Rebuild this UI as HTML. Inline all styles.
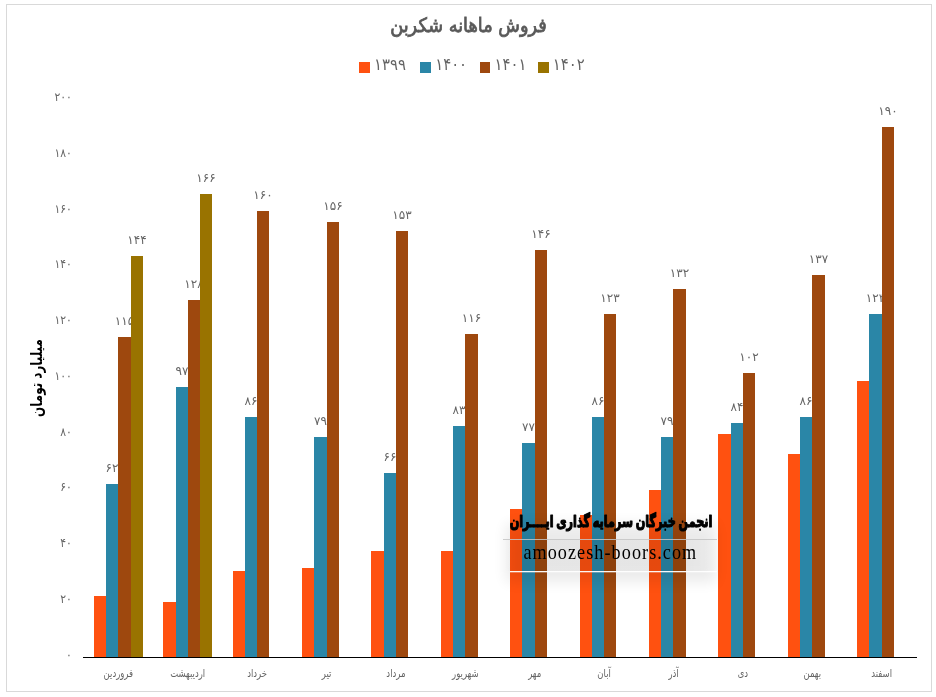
<!DOCTYPE html>
<html lang="fa"><head><meta charset="utf-8"><title>فروش ماهانه شکربن</title>
<style>html,body{margin:0;padding:0;background:#fff}body{width:936px;height:697px;overflow:hidden}svg{display:block;will-change:transform}text{font-family:"DejaVu Sans","Liberation Sans",sans-serif}.num{font-family:"DejaVu Sans Condensed","DejaVu Sans","Liberation Sans",sans-serif}</style></head><body>
<svg width="936" height="697" viewBox="0 0 936 697">
<defs><filter id="blur" x="-20%" y="-50%" width="140%" height="200%"><feGaussianBlur stdDeviation="7"/></filter><linearGradient id="band" x1="0" x2="1" y1="0" y2="0"><stop offset="0" stop-color="#000" stop-opacity="0"/><stop offset="0.08" stop-color="#000" stop-opacity="0.02"/><stop offset="0.85" stop-color="#000" stop-opacity="0.02"/><stop offset="1" stop-color="#000" stop-opacity="0"/></linearGradient><linearGradient id="fade" x1="0" x2="1" y1="0" y2="0"><stop offset="0" stop-color="#fff" stop-opacity="0"/><stop offset="0.12" stop-color="#fff" stop-opacity="1"/><stop offset="0.88" stop-color="#fff" stop-opacity="1"/><stop offset="1" stop-color="#fff" stop-opacity="0"/></linearGradient></defs>
<rect x="0" y="0" width="936" height="697" fill="#fff"/>
<rect x="6.5" y="4.5" width="925" height="687" fill="none" stroke="#D9D9D9" stroke-width="1"/>
<text transform="translate(468.5,32.1) scale(0.90,1)" text-anchor="middle" font-size="19.7" fill="#595959" stroke="#595959" stroke-width="0.8" direction="rtl">فروش ماهانه شکربن</text>
<rect x="359" y="62" width="11" height="11" fill="#FF5110" shape-rendering="crispEdges"/>
<text class="num" x="374.1" y="70" font-size="16.5" fill="#646464">۱۳۹۹</text>
<rect x="420" y="62" width="11" height="11" fill="#2A86A7" shape-rendering="crispEdges"/>
<text class="num" x="435.2" y="70" font-size="16.5" fill="#646464">۱۴۰۰</text>
<rect x="480" y="62" width="10" height="11" fill="#9E480E" shape-rendering="crispEdges"/>
<text class="num" x="494.5" y="70" font-size="16.5" fill="#646464">۱۴۰۱</text>
<rect x="538" y="62" width="11" height="11" fill="#997300" shape-rendering="crispEdges"/>
<text class="num" x="552.8" y="70" font-size="16.5" fill="#646464">۱۴۰۲</text>
<text class="num" x="71.8" y="658.8" text-anchor="end" font-size="12" fill="#646464">۰</text>
<text class="num" x="71.8" y="603.0" text-anchor="end" font-size="12" fill="#646464">۲۰</text>
<text class="num" x="71.8" y="547.2" text-anchor="end" font-size="12" fill="#646464">۴۰</text>
<text class="num" x="71.8" y="491.4" text-anchor="end" font-size="12" fill="#646464">۶۰</text>
<text class="num" x="71.8" y="435.6" text-anchor="end" font-size="12" fill="#646464">۸۰</text>
<text class="num" x="71.8" y="379.9" text-anchor="end" font-size="12" fill="#646464">۱۰۰</text>
<text class="num" x="71.8" y="324.1" text-anchor="end" font-size="12" fill="#646464">۱۲۰</text>
<text class="num" x="71.8" y="268.3" text-anchor="end" font-size="12" fill="#646464">۱۴۰</text>
<text class="num" x="71.8" y="212.5" text-anchor="end" font-size="12" fill="#646464">۱۶۰</text>
<text class="num" x="71.8" y="156.7" text-anchor="end" font-size="12" fill="#646464">۱۸۰</text>
<text class="num" x="71.8" y="100.9" text-anchor="end" font-size="12" fill="#646464">۲۰۰</text>
<text transform="translate(41.7,378) rotate(-90) scale(0.76,1)" text-anchor="middle" font-size="15.75" font-weight="bold" fill="#000" direction="rtl">میلیارد تومان</text>
<g fill="#FF5110" shape-rendering="crispEdges"><rect x="94" y="596" width="12" height="61"/><rect x="163" y="602" width="13" height="55"/><rect x="233" y="571" width="12" height="86"/><rect x="302" y="568" width="12" height="89"/><rect x="371" y="551" width="13" height="106"/><rect x="441" y="551" width="12" height="106"/><rect x="510" y="509" width="12" height="148"/><rect x="580" y="515" width="12" height="142"/><rect x="649" y="490" width="12" height="167"/><rect x="718" y="434" width="13" height="223"/><rect x="788" y="454" width="12" height="203"/><rect x="857" y="381" width="12" height="276"/></g>
<g fill="#2A86A7" shape-rendering="crispEdges"><rect x="106" y="484" width="12" height="173"/><rect x="176" y="387" width="12" height="270"/><rect x="245" y="417" width="12" height="240"/><rect x="314" y="437" width="13" height="220"/><rect x="384" y="473" width="12" height="184"/><rect x="453" y="426" width="12" height="231"/><rect x="522" y="443" width="13" height="214"/><rect x="592" y="417" width="12" height="240"/><rect x="661" y="437" width="12" height="220"/><rect x="731" y="423" width="12" height="234"/><rect x="800" y="417" width="12" height="240"/><rect x="869" y="314" width="13" height="343"/></g>
<g class="num" font-size="12" fill="#646464" text-anchor="middle"><text x="112.0" y="472">۶۲</text><text x="182.0" y="375">۹۷</text><text x="251.0" y="405">۸۶</text><text x="320.5" y="425">۷۹</text><text x="390.0" y="461">۶۶</text><text x="459.0" y="414">۸۳</text><text x="528.5" y="431">۷۷</text><text x="598.0" y="405">۸۶</text><text x="667.0" y="425">۷۹</text><text x="737.0" y="411">۸۴</text><text x="806.0" y="405">۸۶</text><text x="875.5" y="302">۱۲۳</text></g>
<g fill="#9E480E" shape-rendering="crispEdges"><rect x="118" y="337" width="13" height="320"/><rect x="188" y="300" width="12" height="357"/><rect x="257" y="211" width="12" height="446"/><rect x="327" y="222" width="12" height="435"/><rect x="396" y="231" width="12" height="426"/><rect x="465" y="334" width="13" height="323"/><rect x="535" y="250" width="12" height="407"/><rect x="604" y="314" width="12" height="343"/><rect x="673" y="289" width="13" height="368"/><rect x="743" y="373" width="12" height="284"/><rect x="812" y="275" width="13" height="382"/><rect x="882" y="127" width="12" height="530"/></g>
<g class="num" font-size="12" fill="#646464" text-anchor="middle"><text x="124.5" y="325">۱۱۵</text><text x="194.0" y="288">۱۲۸</text><text x="263.0" y="199">۱۶۰</text><text x="333.0" y="210">۱۵۶</text><text x="402.0" y="219">۱۵۳</text><text x="471.5" y="322">۱۱۶</text><text x="541.0" y="238">۱۴۶</text><text x="610.0" y="302">۱۲۳</text><text x="679.5" y="277">۱۳۲</text><text x="749.0" y="361">۱۰۲</text><text x="818.5" y="263">۱۳۷</text><text x="888.0" y="115">۱۹۰</text></g>
<g fill="#997300" shape-rendering="crispEdges"><rect x="131" y="256" width="12" height="401"/><rect x="200" y="194" width="12" height="463"/></g>
<g class="num" font-size="12" fill="#646464" text-anchor="middle"><text x="137.0" y="244">۱۴۴</text><text x="206.0" y="182">۱۶۶</text></g>
<rect x="83" y="657" width="834" height="1" fill="#000" shape-rendering="crispEdges"/>
<text transform="translate(118.3,677.2) scale(0.77,1)" text-anchor="middle" font-size="11" fill="#646464" direction="rtl">فروردین</text>
<text transform="translate(187.7,677.2) scale(0.77,1)" text-anchor="middle" font-size="11" fill="#646464" direction="rtl">اردیبهشت</text>
<text transform="translate(257.1,677.2) scale(0.77,1)" text-anchor="middle" font-size="11" fill="#646464" direction="rtl">خرداد</text>
<text transform="translate(326.5,677.2) scale(0.77,1)" text-anchor="middle" font-size="11" fill="#646464" direction="rtl">تیر</text>
<text transform="translate(395.9,677.2) scale(0.77,1)" text-anchor="middle" font-size="11" fill="#646464" direction="rtl">مرداد</text>
<text transform="translate(465.3,677.2) scale(0.77,1)" text-anchor="middle" font-size="11" fill="#646464" direction="rtl">شهریور</text>
<text transform="translate(534.7,677.2) scale(0.77,1)" text-anchor="middle" font-size="11" fill="#646464" direction="rtl">مهر</text>
<text transform="translate(604.1,677.2) scale(0.77,1)" text-anchor="middle" font-size="11" fill="#646464" direction="rtl">آبان</text>
<text transform="translate(673.5,677.2) scale(0.77,1)" text-anchor="middle" font-size="11" fill="#646464" direction="rtl">آذر</text>
<text transform="translate(742.9,677.2) scale(0.77,1)" text-anchor="middle" font-size="11" fill="#646464" direction="rtl">دی</text>
<text transform="translate(812.3,677.2) scale(0.77,1)" text-anchor="middle" font-size="11" fill="#646464" direction="rtl">بهمن</text>
<text transform="translate(881.7,677.2) scale(0.77,1)" text-anchor="middle" font-size="11" fill="#646464" direction="rtl">اسفند</text>
<g>
<rect x="506" y="524" width="210" height="58" fill="#000" opacity="0.08" filter="url(#blur)"/>
<rect x="503" y="540" width="215" height="31" fill="url(#band)"/>
<rect x="503" y="539" width="214" height="1" fill="#c4c4c4" opacity="0.85"/>
<rect x="510" y="571" width="207" height="1.3" fill="#fff" opacity="0.95"/>
<text transform="translate(611,526.7) scale(0.72,1.04)" text-anchor="middle" font-size="15.6" word-spacing="-1.5" font-weight="bold" fill="#000" stroke="#000" stroke-width="1.15" stroke-linejoin="round" direction="rtl">انجمن خبرگان سرمایه گذاری ایــــران</text>
<text transform="translate(523.4,558.6) scale(0.89,1)" font-size="20.4" fill="#000" style="font-family:'Liberation Serif',serif;letter-spacing:1.2px">amoozesh-boors.com</text>
</g>
</svg></body></html>
